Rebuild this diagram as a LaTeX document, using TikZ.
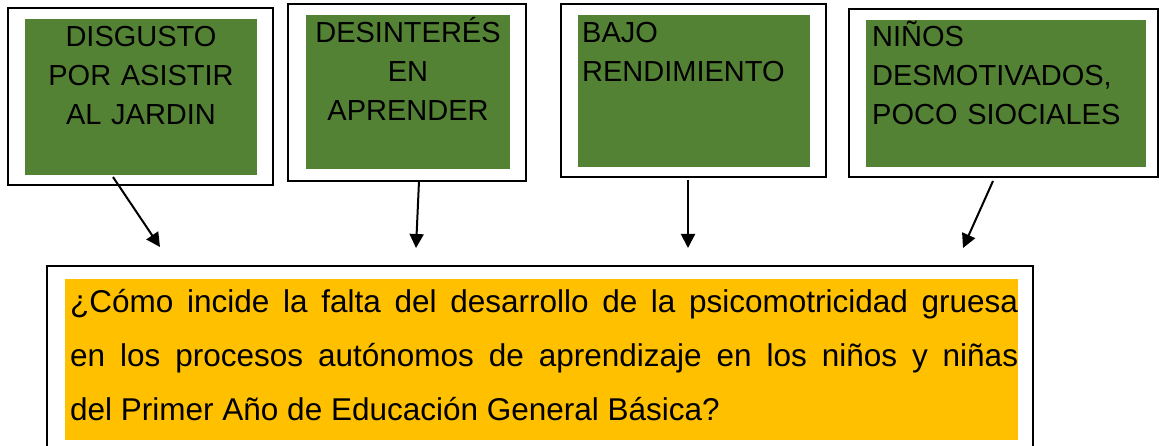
\documentclass[tikz,border=0pt]{standalone}
\usepackage{fontspec}
\setmainfont{Liberation Sans}
\usepackage{tikz}
\usetikzlibrary{arrows.meta, positioning}
\usepackage{xcolor}
\definecolor{causegreen}{HTML}{548235}
\definecolor{questionorange}{HTML}{FFC000}

\begin{document}
\begin{tikzpicture}[
    x=1pt, y=-1pt,
    outerbox/.style={rectangle, draw, line width=2pt, fill=white, inner sep=0pt},
    causebox/.style={rectangle, fill=causegreen, inner sep=0pt},
    questionbox/.style={rectangle, fill=questionorange, inner sep=0pt},
    causetext/.style={inner sep=0pt, font=\fontsize{29}{39}\selectfont},
    questiontext/.style={inner sep=0pt, text width=948pt, align=justify, font=\fontsize{31.5}{54}\selectfont},
    arrow/.style={-{Triangle[length=14pt, width=14pt]}, line width=2pt}
]
    \useasboundingbox (0,0) rectangle (1161,446);

    % cause boxes
    \node[outerbox, minimum width=265pt, minimum height=177pt] (frame1) at (140.5,96.5) {};
    \node[causebox, minimum width=232pt, minimum height=156pt] (cause1) at (141,97) {};
    \node[causetext, text width=232pt, align=center, anchor=base] at (141,47) {DISGUSTO\\POR ASISTIR\\AL JARDIN};

    \node[outerbox, minimum width=238pt, minimum height=177pt] (frame2) at (407,92.5) {};
    \node[causebox, minimum width=204pt, minimum height=154pt] (cause2) at (408,92) {};
    \node[causetext, text width=204pt, align=center, anchor=base] at (408,43) {DESINTERÉS\\EN\\APRENDER};

    \node[outerbox, minimum width=265pt, minimum height=173pt] (frame3) at (693.5,90.5) {};
    \node[causebox, minimum width=232pt, minimum height=152pt] (cause3) at (694,91) {};
    \node[causetext, text width=225pt, align=left, anchor=base west] at (582,43) {BAJO\\RENDIMIENTO};

    \node[outerbox, minimum width=309pt, minimum height=168pt] (frame4) at (1003.5,93) {};
    \node[causebox, minimum width=280pt, minimum height=147pt] (cause4) at (1006,93.5) {};
    \node[causetext, text width=270pt, align=left, anchor=base west] at (872,47) {NIÑOS\\DESMOTIVADOS,\\POCO SIOCIALES};

    % problem box
    \node[outerbox, minimum width=986pt, minimum height=194pt] (frame5) at (540,363) {};
    \node[questionbox, minimum width=953pt, minimum height=161pt] (question) at (541.5,359.5) {};
    \node[questiontext, anchor=base west] (questiontxt) at (70,312)
        {¿Cómo incide la falta del desarrollo de la psicomotricidad gruesa\linebreak
         en los procesos autónomos de aprendizaje en los niños y niñas\linebreak
         del Primer Año de Educación General Básica?};

    % arrows
    \coordinate (tail1) at (113,177);  \coordinate (head1) at (160,247);
    \coordinate (tail2) at (419,181);  \coordinate (head2) at (416,248);
    \coordinate (tail3) at (688,180);  \coordinate (head3) at (688,248);
    \coordinate (tail4) at (993,181);  \coordinate (head4) at (963,248);

    \draw[arrow] (tail1) -- (head1);
    \draw[arrow] (tail2) -- (head2);
    \draw[arrow] (tail3) -- (head3);
    \draw[arrow] (tail4) -- (head4);

\end{tikzpicture}
\end{document}
